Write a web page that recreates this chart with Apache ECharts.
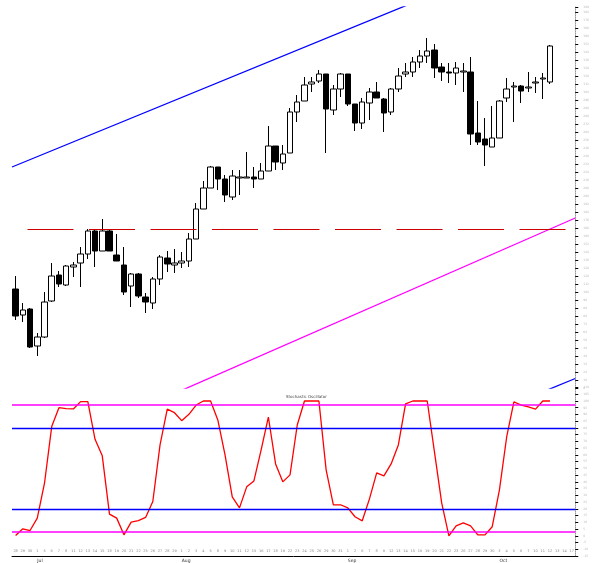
<!DOCTYPE html>
<html>
<head>
<meta charset="utf-8">
<title>Candles and stochastic</title>
<script src="https://cdn.jsdelivr.net/npm/echarts@6/dist/echarts.min.js"></script>
<style>
  html, body { margin: 0; padding: 0; background: #fff; }
  #main { width: 592px; height: 563px; }
</style>
</head>
<body>
<div id="main"></div>
<script>
// trading days (last 3 are empty room on the right)
var dates = [
  '2011-06-28','2011-06-29','2011-06-30',
  '2011-07-01','2011-07-05','2011-07-06','2011-07-07','2011-07-08',
  '2011-07-11','2011-07-12','2011-07-13','2011-07-14','2011-07-15',
  '2011-07-18','2011-07-19','2011-07-20','2011-07-21','2011-07-22',
  '2011-07-25','2011-07-26','2011-07-27','2011-07-28','2011-07-29',
  '2011-08-01','2011-08-02','2011-08-03','2011-08-04','2011-08-05',
  '2011-08-08','2011-08-09','2011-08-10','2011-08-11','2011-08-12',
  '2011-08-15','2011-08-16','2011-08-17','2011-08-18','2011-08-19',
  '2011-08-22','2011-08-23','2011-08-24','2011-08-25','2011-08-26',
  '2011-08-29','2011-08-30','2011-08-31',
  '2011-09-01','2011-09-02','2011-09-06','2011-09-07','2011-09-08','2011-09-09',
  '2011-09-12','2011-09-13','2011-09-14','2011-09-15','2011-09-16',
  '2011-09-19','2011-09-20','2011-09-21','2011-09-22','2011-09-23',
  '2011-09-26','2011-09-27','2011-09-28','2011-09-29','2011-09-30',
  '2011-10-03','2011-10-04','2011-10-05','2011-10-06','2011-10-07',
  '2011-10-10','2011-10-11','2011-10-12',
  '2011-10-13','2011-10-14','2011-10-17'
];
var monthNames = ['Jan','Feb','Mar','Apr','May','Jun','Jul','Aug','Sep','Oct','Nov','Dec'];

var openP = [107,81,87,50,59,95,121,111,129,133,
  142,165,145,165,141,131,110,122,99,93,
  117,138,131,133,135,157,187,208,229,217,
  199,218,218,219,217,225,250,233,243,284,
  295,312,315,322,286,307,322,292,273,293,
  304,297,284,307,322,324,334,340,346,329,
  324,323,324,324,263,257,249,258,298,309,
  310,308,313,317,314];
var closeP = [80,86,49,59,94,120,112,130,131,142,
  165,145,165,145,135,104,122,100,94,117,
  139,132,133,135,157,187,208,229,217,201,
  220,219,219,217,225,250,234,242,284,294,
  311,314,322,287,307,322,292,273,294,304,
  298,283,307,320,324,334,340,345,328,324,
  323,328,325,262,254,251,258,295,307,310,
  305,309,314,318,350];
var lowP = [76,74,48,40,58,94,109,110,119,109,
  137,129,145,145,135,101,89,98,83,87,
  111,124,123,128,129,157,187,208,206,194,
  196,201,218,208,217,225,226,226,243,274,
  295,304,313,243,281,299,290,265,267,276,
  298,264,281,304,319,319,328,333,318,315,
  313,311,304,251,251,230,249,258,294,274,
  293,304,303,297,312];
var highP = [120,93,88,63,104,133,125,131,134,149,
  167,167,177,166,162,149,123,123,103,119,
  141,145,147,144,163,193,215,230,229,221,
  226,226,244,229,233,270,250,251,288,301,
  319,319,326,322,311,323,322,292,298,308,
  314,298,308,328,333,339,346,358,352,333,
  333,334,333,339,295,278,290,296,318,314,
  311,324,319,323,351];

// stochastic %K
var stochK = [0.2,5.2,3.9,13.1,39,81,95,94.4,94.1,99.5,
  99.5,71.6,59.3,16.1,13.1,0.7,10.1,11.3,13.6,25.4,
  67.4,93.9,91.3,85.4,90.1,97,100,100,85.9,60,
  28.9,20.7,36.3,40.7,63.7,88.1,53.3,40,45.2,82.2,
  100,100,100,48.9,23,23,20.7,14.1,11.1,27.4,
  46.7,44.4,53.3,67.4,97.8,100,100,100,62.2,24.4,
  0,7.4,9.6,7.4,0.7,0.7,6.7,34,73.3,99.3,
  97,95.6,94,100,100];
var stochHigh = [97, 80];
var stochLow = [20, 3];

// drawn lines, [bar index, price]
var trendUpper = [[-0.5, 229], [60, 408]];
var trendLower = [[21.2, 0], [77.5, 178]];
var trendLowerBlue = [[71.6, 0], [77.5, 17.5]];
var levelLine = [[-0.5, 166.5], [77.5, 166.5]];

var candles = [];
for (var i = 0; i < openP.length; i++) {
  candles.push([openP[i], closeP[i], lowP[i], highP[i]]);
}

function isWeekStart(index) {
  if (index === 0) return false;
  var d = new Date(dates[index] + 'T00:00:00');
  var p = new Date(dates[index - 1] + 'T00:00:00');
  return d.getDay() <= p.getDay() || d.getMonth() !== p.getMonth();
}

var chartDom = document.getElementById('main');
var myChart = echarts.init(chartDom);

var option = {
  animation: false,
  backgroundColor: '#fff',
  textStyle: { fontFamily: 'DejaVu Sans' },
  title: {
    text: 'Stochastic Oscillator',
    left: 281,
    top: 390,
    textStyle: { fontSize: 4, fontWeight: 'normal', color: '#444' }
  },
  grid: [
    { left: 12, right: 13, top: 7, height: 381 },
    { left: 12, right: 13, top: 387.5, height: 168.75 }
  ],
  xAxis: [
    {
      type: 'category', gridIndex: 0, data: dates, boundaryGap: true,
      axisLine: { show: false }, axisTick: { show: false }, axisLabel: { show: false }
    },
    {
      type: 'value', gridIndex: 0, min: -0.5, max: 77.5, show: false
    },
    {
      type: 'category', gridIndex: 1, data: dates, boundaryGap: true,
      position: 'bottom', offset: 0,
      axisLine: { onZero: false, lineStyle: { color: '#000', width: 1 } },
      axisTick: { inside: true, length: 8, interval: isWeekStart, lineStyle: { color: '#000' } },
      axisLabel: {
        inside: true, interval: 0, fontSize: 3.5, color: '#888', margin: 3,
        formatter: function (v) { return String(+v.slice(8)); }
      }
    },
    {
      type: 'category', gridIndex: 1, data: dates, boundaryGap: true,
      position: 'bottom', offset: 0,
      axisLine: { show: false, onZero: false },
      axisTick: { length: 4, interval: isWeekStart, lineStyle: { color: '#000' } },
      axisLabel: {
        interval: 0, fontSize: 4.5, color: '#333', margin: 2, align: 'left',
        formatter: function (v, idx) {
          if (idx === 0) return '';
          var m = +v.slice(5, 7), pm = +dates[idx - 1].slice(5, 7);
          return m !== pm ? monthNames[m - 1] : '';
        }
      }
    }
  ],
  yAxis: [
    {
      type: 'value', gridIndex: 0, position: 'right', min: 8, max: 389, interval: 8,
      splitLine: { show: false },
      axisLine: { show: true, onZero: false, lineStyle: { color: '#999', type: 'dotted' } },
      axisTick: { show: true, length: 3, lineStyle: { color: '#000' } },
      axisLabel: { fontSize: 3, color: '#bbb', margin: 8 }
    },
    {
      type: 'value', gridIndex: 1, position: 'right', min: -15, max: 110, interval: 5,
      splitLine: { show: false },
      axisLine: { show: true, onZero: false, lineStyle: { color: '#999', type: 'dotted' } },
      axisTick: { show: true, length: 3, lineStyle: { color: '#000' } },
      axisLabel: { fontSize: 3, color: '#bbb', margin: 8 }
    }
  ],
  series: [
    {
      type: 'candlestick', xAxisIndex: 0, yAxisIndex: 0,
      data: candles,
      barWidth: 6,
      itemStyle: {
        color: '#fff', color0: '#000',
        borderColor: '#000', borderColor0: '#000', borderWidth: 1
      }
    },
    {
      type: 'line', xAxisIndex: 1, yAxisIndex: 0, data: trendUpper,
      symbol: 'none', lineStyle: { color: '#0000ff', width: 1.3 }
    },
    {
      type: 'line', xAxisIndex: 1, yAxisIndex: 0, data: trendLower,
      symbol: 'none', lineStyle: { color: '#ff00ff', width: 1.3 }
    },
    {
      type: 'line', xAxisIndex: 1, yAxisIndex: 0, data: trendLowerBlue,
      symbol: 'none', lineStyle: { color: '#0000ff', width: 1.3 }
    },
    {
      type: 'line', xAxisIndex: 1, yAxisIndex: 0, data: levelLine,
      symbol: 'none',
      lineStyle: { color: '#cc0000', width: 1, type: [46, 15.5], dashOffset: 46 }
    },
    {
      type: 'line', xAxisIndex: 2, yAxisIndex: 1, data: stochK,
      symbol: 'none', lineStyle: { color: '#ff0000', width: 1.3 },
      markLine: {
        silent: true, symbol: 'none', label: { show: false },
        data: [
          { yAxis: stochHigh[0], lineStyle: { color: '#ff00ff', width: 1.5, type: 'solid' } },
          { yAxis: stochHigh[1], lineStyle: { color: '#0000ff', width: 1.3, type: 'solid' } },
          { yAxis: stochLow[0], lineStyle: { color: '#0000ff', width: 1.3, type: 'solid' } },
          { yAxis: stochLow[1], lineStyle: { color: '#ff00ff', width: 1.5, type: 'solid' } }
        ]
      }
    }
  ]
};

myChart.setOption(option);
</script>
</body>
</html>
